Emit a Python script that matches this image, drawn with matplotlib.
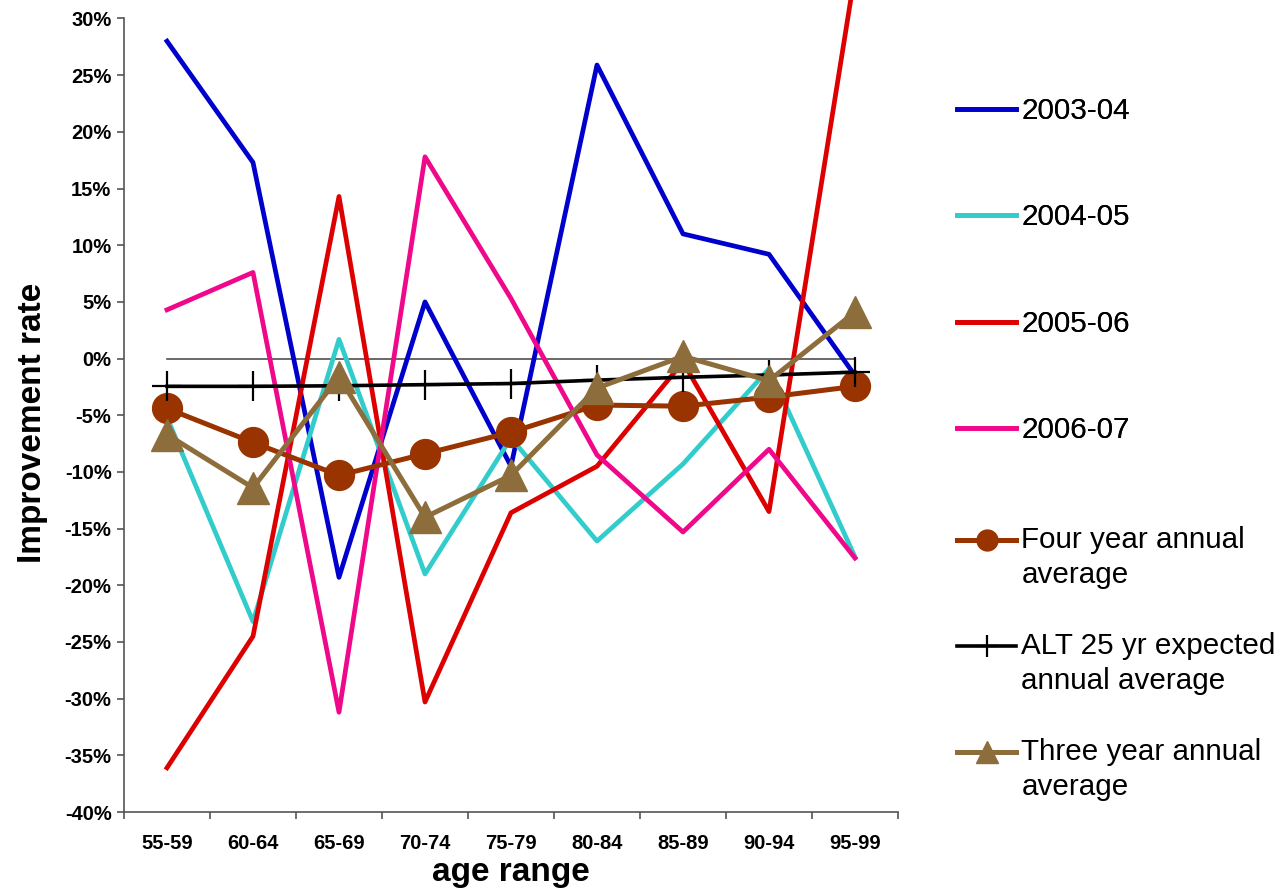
import numpy as np
import matplotlib
matplotlib.use("Agg")
import matplotlib.pyplot as plt
from matplotlib.legend_handler import HandlerLine2D

# ---------------- data ----------------
age_ranges = ["55-59", "60-64", "65-69", "70-74", "75-79", "80-84", "85-89", "90-94", "95-99"]

s2003_04 = [28.0, 17.3, -19.3, 5.0, -9.5, 25.9, 11.0, 9.2, -1.5]
s2004_05 = [-5.2, -23.2, 1.7, -19.0, -7.0, -16.1, -9.3, -0.9, -17.5]
s2005_06 = [-36.1, -24.5, 14.3, -30.3, -13.6, -9.5, -0.3, -13.5, 34.0]
s2006_07 = [4.3, 7.6, -31.2, 17.8, 5.3, -8.5, -15.3, -8.0, -17.6]
four_year_avg = [-4.4, -7.4, -10.3, -8.4, -6.5, -4.1, -4.2, -3.4, -2.45]
alt_25yr = [-2.45, -2.45, -2.4, -2.3, -2.2, -1.9, -1.65, -1.45, -1.2]
three_year_avg = [-6.7, -11.4, -1.6, -14.0, -10.3, -2.6, 0.2, -1.95, 4.1]
zero_ref = [0, 0, 0, 0, 0, 0, 0, 0, 0]

y_ticks = [-40, -35, -30, -25, -20, -15, -10, -5, 0, 5, 10, 15, 20, 25, 30]
y_tick_labels = ["-40%", "-35%", "-30%", "-25%", "-20%", "-15%", "-10%", "-5%",
                 "0%", "5%", "10%", "15%", "20%", "25%", "30%"]

labels = ["2003-04", "2004-05", "2005-06", "2006-07",
          "Four year annual\naverage", "ALT 25 yr expected\nannual average",
          "Three year annual\naverage"]

# ---------------- figure ----------------
plt.rcParams['font.family'] = ['Liberation Sans', 'DejaVu Sans']
fig = plt.figure(figsize=(12.78, 8.88), dpi=100)
ax = fig.add_axes([124 / 1278, 1 - 812 / 888, 774 / 1278, (812 - 18.5) / 888])

x = np.arange(len(age_ranges))

ax.plot(x, zero_ref, color='#404040', lw=1.1, zorder=1)
l1, = ax.plot(x, s2003_04, color='#0000CC', lw=3.4, zorder=2)
l2, = ax.plot(x, s2004_05, color='#33CCCC', lw=3.4, zorder=2)
l3, = ax.plot(x, s2005_06, color='#DD0000', lw=3.4, zorder=2, clip_on=False)
l4, = ax.plot(x, s2006_07, color='#F0088A', lw=3.4, zorder=2)
l5, = ax.plot(x, four_year_avg, color='#993300', lw=3.6, marker='o', ms=21.5,
              zorder=3)
l6, = ax.plot(x, alt_25yr, color='black', lw=2.6, marker='+', ms=22, mew=1.6,
              zorder=4)
l7, = ax.plot(x, three_year_avg, color='#8C6D3B', lw=3.6, marker='^', ms=23,
              zorder=5)

ax.set_xlim(-0.5, len(age_ranges) - 0.5)
ax.set_ylim(-40, 30)
ax.set_yticks(y_ticks)
ax.set_yticklabels(y_tick_labels)
ax.set_xticks(x)
ax.set_xticklabels(age_ranges)
ax.set_xticks(np.arange(-0.5, len(age_ranges)), minor=True)
ax.tick_params(axis='x', which='major', length=0, pad=16)
ax.tick_params(axis='x', which='minor', length=5, width=1.2, color='#555555', direction='out')
ax.tick_params(axis='y', length=5, width=1.2, color='#555555', direction='out', pad=4)
for lab in ax.get_xticklabels() + ax.get_yticklabels():
    lab.set_fontsize(14.5)
    lab.set_fontweight('bold')

for s in ['top', 'right']:
    ax.spines[s].set_visible(False)
for s in ['left', 'bottom']:
    ax.spines[s].set_color('#555555')
    ax.spines[s].set_linewidth(1.2)

ax.set_ylabel("Improvement rate", fontsize=24, fontweight='bold')
ax.yaxis.set_label_coords(-0.098, 0.491)
ax.set_xlabel("age range", fontsize=24, fontweight='bold')
ax.xaxis.set_label_coords(0.5, -0.057)


class FirstLineHandler(HandlerLine2D):
    def __init__(self, yfrac, **kw):
        super().__init__(**kw)
        self.yfrac = yfrac

    def create_artists(self, legend, orig_handle, xdescent, ydescent, width,
                       height, fontsize, trans):
        arts = super().create_artists(legend, orig_handle, xdescent, ydescent,
                                      width, height, fontsize, trans)
        for a in arts:
            yd = np.asarray(a.get_ydata(), dtype=float)
            a.set_ydata(np.full_like(yd, self.yfrac * fontsize))
        return arts


handles = [l1, l2, l3, l4, l5, l6, l7]
hmap = {}
for h, lab in zip(handles, labels):
    hmap[h] = FirstLineHandler(0.33 + (0.62 if "\n" in lab else 0.0))

common = dict(loc='upper left', frameon=False, fontsize=21.3, numpoints=1,
              handlelength=2.0, handletextpad=0.18, handleheight=3.5,
              borderpad=0, borderaxespad=0,
              markerscale=0.7, handler_map=hmap)

leg1 = fig.legend(handles[:4], labels[:4], labelspacing=1.08,
                  bbox_to_anchor=(957 / 1278, 1 - 73 / 888), **common)
leg2 = fig.legend(handles[4:], labels[4:], labelspacing=1.06,
                  bbox_to_anchor=(957 / 1278, 1 - 523 / 888), **common)
for t in leg2.get_texts():
    t.set_linespacing(1.31)
fig.add_artist(leg1)

fig.savefig("out.png", dpi=100)
